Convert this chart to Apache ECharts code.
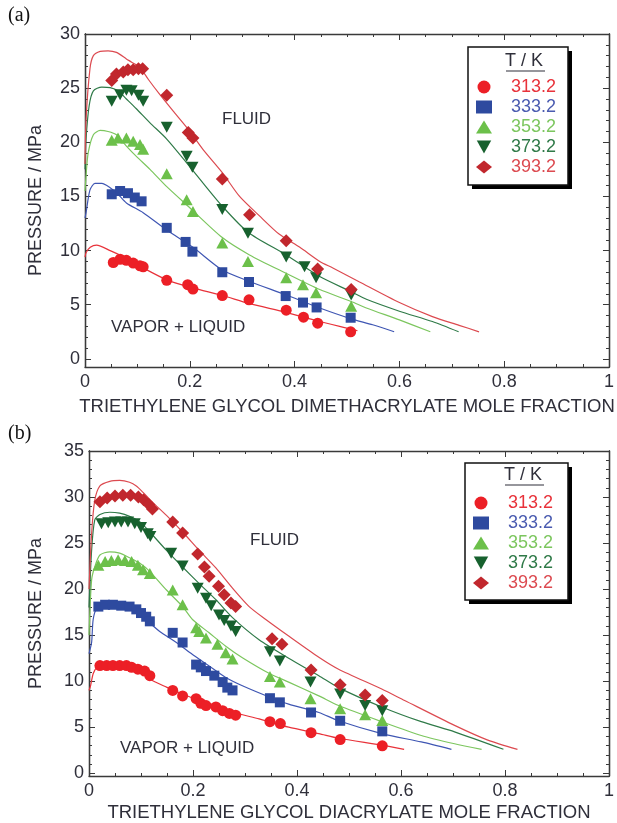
<!DOCTYPE html>
<html>
<head>
<meta charset="utf-8">
<script src="https://cdn.jsdelivr.net/npm/echarts@6/dist/echarts.min.js"></script>
<style>
html,body{margin:0;padding:0;background:#fff;}
#main{width:617px;height:823px;}
</style>
</head>
<body>
<div id="main"></div>
<script>
// temperatures (legend names)
var temps = ['313.2', '333.2', '353.2', '373.2', '393.2'];
var yTicksA = [0, 5, 10, 15, 20, 25, 30];
var yTicksB = [0, 5, 10, 15, 20, 25, 30, 35];

// (a) triethylene glycol dimethacrylate, measured points [x, P/MPa]
var a313 = [[0.054,8.9],[0.067,9.2],[0.079,9.1],[0.092,8.85],[0.105,8.6],[0.111,8.5],[0.156,7.25],[0.196,6.85],[0.206,6.45],[0.262,5.85],[0.313,5.45],[0.384,4.5],[0.417,3.85],[0.444,3.3],[0.507,2.5]];
var a333 = [[0.051,15.2],[0.067,15.5],[0.082,15.3],[0.095,14.9],[0.108,14.55],[0.156,12.1],[0.192,10.8],[0.205,9.9],[0.262,8.0],[0.313,7.1],[0.383,5.8],[0.416,5.2],[0.442,4.75],[0.507,3.8]];
var a353 = [[0.051,20.2],[0.063,20.4],[0.079,20.4],[0.092,20.1],[0.105,19.8],[0.111,19.35],[0.156,17.1],[0.194,14.7],[0.206,13.6],[0.262,10.7],[0.311,9.0],[0.384,7.5],[0.416,6.85],[0.441,6.1],[0.508,4.85]];
var a373 = [[0.051,23.8],[0.067,24.4],[0.079,24.8],[0.089,24.75],[0.102,24.35],[0.111,23.8],[0.156,21.4],[0.194,18.7],[0.205,17.7],[0.262,13.8],[0.311,11.6],[0.384,9.4],[0.419,8.5],[0.441,7.5],[0.508,5.9]];
var a393 = [[0.051,25.7],[0.060,26.3],[0.073,26.5],[0.082,26.7],[0.092,26.7],[0.102,26.8],[0.110,26.8],[0.156,24.35],[0.197,20.9],[0.206,20.4],[0.262,16.6],[0.314,13.3],[0.384,10.9],[0.444,8.3],[0.508,6.4]];

// (a) calculated curves
var ca313 = [[0,9.4],[0.002,9.8],[0.01,10.3],[0.022,10.5],[0.048,10.0],[0.079,9.3],[0.111,8.4],[0.156,7.3],[0.206,6.55],[0.262,5.85],[0.314,5.1],[0.384,4.3],[0.444,3.5],[0.508,2.75],[0.52,2.6]];
var ca333 = [[0,13.0],[0.002,13.5],[0.0095,15.6],[0.019,16.2],[0.032,16.2],[0.048,15.8],[0.063,15.2],[0.079,14.4],[0.111,13.5],[0.156,11.9],[0.206,10.3],[0.262,8.2],[0.314,7.15],[0.384,5.9],[0.448,4.7],[0.508,3.7],[0.549,3.15],[0.59,2.5]];
var ca353 = [[0,15.5],[0.002,16.9],[0.006,19.0],[0.016,20.7],[0.029,21.1],[0.044,21.0],[0.06,20.7],[0.079,19.65],[0.098,18.7],[0.124,17.5],[0.156,15.9],[0.2,13.95],[0.262,11.2],[0.314,9.6],[0.384,7.9],[0.448,6.4],[0.508,5.3],[0.537,4.7],[0.6,3.6],[0.659,2.5]];
var ca373 = [[0,17.5],[0.002,20.3],[0.008,23.4],[0.016,24.75],[0.032,25.1],[0.048,25.05],[0.063,24.75],[0.079,24.0],[0.098,23.1],[0.124,21.8],[0.156,20.3],[0.194,18.1],[0.225,16.25],[0.262,14.1],[0.311,11.7],[0.384,9.6],[0.448,7.6],[0.508,6.2],[0.537,5.5],[0.6,4.4],[0.663,3.45],[0.713,2.5]];
var ca393 = [[0,18],[0.002,22.1],[0.0095,26.8],[0.016,28.0],[0.029,28.4],[0.044,28.45],[0.06,28.3],[0.079,27.7],[0.089,27.4],[0.105,26.9],[0.121,25.8],[0.143,24.4],[0.168,22.9],[0.197,21.2],[0.225,19.35],[0.262,17.2],[0.295,15.0],[0.333,13.2],[0.371,11.5],[0.41,10.3],[0.448,9.0],[0.473,8.4],[0.524,7.1],[0.6,5.2],[0.663,3.9],[0.714,3.1],[0.752,2.5]];

// (b) triethylene glycol diacrylate, measured points
var b313 = [[0.021,11.7],[0.034,11.7],[0.046,11.7],[0.059,11.7],[0.072,11.7],[0.082,11.5],[0.094,11.3],[0.107,11.1],[0.117,10.6],[0.161,9.0],[0.18,8.4],[0.206,8.1],[0.215,7.6],[0.225,7.35],[0.244,7.2],[0.257,6.8],[0.27,6.5],[0.282,6.3],[0.348,5.6],[0.368,5.4],[0.427,4.4],[0.483,3.66],[0.564,2.98]];
var b333 = [[0.018,18.1],[0.031,18.3],[0.046,18.3],[0.062,18.2],[0.078,18.1],[0.091,17.8],[0.1,17.4],[0.11,17.0],[0.117,16.5],[0.161,15.25],[0.18,14.2],[0.206,11.8],[0.215,11.5],[0.225,11.1],[0.241,10.6],[0.257,9.9],[0.266,9.3],[0.276,9.0],[0.348,8.15],[0.367,7.7],[0.427,6.6],[0.483,5.7],[0.564,4.55]];
var b353 = [[0.018,22.6],[0.031,23.0],[0.043,23.1],[0.056,23.2],[0.069,23.1],[0.082,23.0],[0.094,22.6],[0.104,22.1],[0.117,21.7],[0.161,19.9],[0.18,18.3],[0.206,15.8],[0.212,15.4],[0.225,14.7],[0.247,14.0],[0.263,13.1],[0.276,12.4],[0.348,10.5],[0.367,9.9],[0.426,8.1],[0.483,7.0],[0.531,6.35],[0.564,5.74]];
var b373 = [[0.024,27.1],[0.037,27.2],[0.05,27.3],[0.062,27.3],[0.075,27.3],[0.088,27.1],[0.1,26.7],[0.113,26.0],[0.118,25.7],[0.158,23.9],[0.18,22.5],[0.209,20.1],[0.225,19.0],[0.235,18.2],[0.25,17.2],[0.26,16.6],[0.273,16.0],[0.282,15.4],[0.348,13.2],[0.367,12.2],[0.426,9.9],[0.483,8.6],[0.531,7.35],[0.564,6.8]];
var b393 = [[0.021,29.5],[0.035,29.9],[0.05,30.1],[0.065,30.2],[0.08,30.2],[0.095,30.0],[0.105,29.7],[0.115,29.2],[0.122,28.7],[0.161,27.3],[0.18,26.1],[0.209,23.8],[0.222,22.4],[0.231,21.4],[0.249,20.3],[0.26,19.4],[0.273,18.5],[0.282,18.1],[0.352,14.6],[0.371,14.0],[0.427,11.2],[0.483,9.6],[0.531,8.5],[0.564,7.9]];

// (b) calculated curves
var cb313 = [[0,9],[0.003,9.5],[0.008,10.8],[0.015,11.5],[0.027,11.85],[0.053,11.85],[0.078,11.65],[0.098,11.1],[0.117,10.2],[0.149,9.35],[0.18,8.6],[0.212,7.9],[0.244,7.35],[0.276,6.65],[0.327,5.9],[0.384,5.0],[0.442,4.3],[0.48,3.8],[0.563,3.05],[0.606,2.6]];
var cb333 = [[0,13],[0.005,14.2],[0.008,16.7],[0.015,17.95],[0.027,18.4],[0.046,18.5],[0.072,18.3],[0.091,17.8],[0.11,16.7],[0.136,15.4],[0.168,14.2],[0.199,12.9],[0.231,11.65],[0.263,10.4],[0.295,9.5],[0.348,8.25],[0.384,7.5],[0.442,6.6],[0.48,5.7],[0.563,4.3],[0.639,3.4],[0.697,2.6]];
var cb353 = [[0,15],[0.005,21.0],[0.011,22.4],[0.021,23.7],[0.04,24.05],[0.059,23.9],[0.078,23.4],[0.098,22.8],[0.117,21.9],[0.149,19.9],[0.18,18.1],[0.199,16.7],[0.231,15.25],[0.263,13.8],[0.295,12.55],[0.348,10.8],[0.384,9.9],[0.442,8.4],[0.48,7.35],[0.563,5.6],[0.639,4.1],[0.703,3.2],[0.755,2.6]];
var cb373 = [[0,18],[0.005,24.2],[0.011,27.5],[0.021,28.1],[0.04,28.35],[0.059,28.25],[0.078,27.9],[0.098,27.3],[0.117,26.2],[0.149,24.2],[0.18,22.4],[0.212,20.6],[0.244,18.85],[0.276,16.9],[0.327,14.5],[0.384,12.5],[0.442,10.6],[0.48,9.3],[0.563,7.2],[0.639,5.6],[0.703,4.5],[0.797,2.6]];
var cb393 = [[0,20],[0.005,26.0],[0.011,29.6],[0.021,31.2],[0.04,31.7],[0.059,31.8],[0.078,31.6],[0.091,31.2],[0.104,30.5],[0.123,29.4],[0.149,28.0],[0.18,26.2],[0.212,24.2],[0.244,22.3],[0.276,20.1],[0.308,18.1],[0.34,16.7],[0.384,14.9],[0.442,12.6],[0.48,11.3],[0.563,9.15],[0.607,7.9],[0.703,5.2],[0.767,3.6],[0.824,2.6]];

var ptColors = ['#ec1f26', '#2e4a9f', '#6cc04a', '#17612e', '#c1272d'];
var lnColors = ['#e8323a', '#3f56b3', '#7cc65e', '#2f7a48', '#dc4a50'];
var lgColors = ['#e8323a', '#4a5bb0', '#7cc65e', '#2f7a48', '#dc4a50'];
var symbols = ['circle', 'rect', 'triangle', 'path://M0,0L10,0L5,9Z', 'diamond'];
var symSizes = [11, 10, [12, 11], [12, 11], 13];
var txt = '#2f2f3a';
var axColor = '#3a3a3a';

window.onload = function () {
    var chart = echarts.init(document.getElementById('main'), null, {renderer: 'canvas'});

    function xAx(grid, pos, name, gap) {
        return {
            type: 'value', gridIndex: grid, position: pos, min: 0, max: 1, interval: 0.2,
            name: name, nameLocation: 'middle', nameGap: gap,
            nameTextStyle: {fontSize: 18.5, color: txt, fontFamily: 'Liberation Sans'},
            axisLine: {show: true, onZero: false, lineStyle: {color: axColor, width: 1.3}},
            axisTick: {show: true, inside: true, length: 6, lineStyle: {color: axColor}},
            minorTick: {show: true, splitNumber: 4, length: 3, lineStyle: {color: axColor}},
            axisLabel: {show: pos === 'bottom', fontSize: 18, color: txt, margin: 6, fontFamily: 'Liberation Sans'},
            splitLine: {show: false}
        };
    }
    function yAx(grid, pos, lo, hi, ticks, minor, name, gap) {
        var vals = [];
        if (minor) { for (var v = 0; v <= hi; v++) vals.push(v); } else vals = ticks;
        return {
            type: 'value', gridIndex: grid, position: pos, min: lo, max: hi,
            name: name || '', nameLocation: 'middle', nameGap: gap,
            nameTextStyle: {fontSize: 18, color: txt, fontFamily: 'Liberation Sans'},
            axisLine: {show: true, onZero: false, lineStyle: {color: axColor, width: 1.3}},
            axisTick: {show: true, inside: true, length: minor ? 3 : 6, customValues: vals, lineStyle: {color: axColor}},
            axisLabel: {show: !minor && pos === 'left', customValues: ticks, fontSize: 18, color: txt, margin: 5, fontFamily: 'Liberation Sans'},
            splitLine: {show: false}
        };
    }

    var series = [];
    var ptsA = [a313, a333, a353, a373, a393], crvA = [ca313, ca333, ca353, ca373, ca393];
    var ptsB = [b313, b333, b353, b373, b393], crvB = [cb313, cb333, cb353, cb373, cb393];
    function addPanel(pts, crv, xi, yi) {
        for (var i = 0; i < 5; i++) {
            series.push({
                type: 'line', name: 'calc ' + temps[i], xAxisIndex: xi, yAxisIndex: yi,
                data: crv[i], showSymbol: false, smooth: 0.25, z: 2, silent: true,
                lineStyle: {color: lnColors[i], width: 1.2}
            });
        }
        for (var j = 0; j < 5; j++) {
            series.push({
                type: 'scatter', name: temps[j], xAxisIndex: xi, yAxisIndex: yi,
                data: pts[j], symbol: symbols[j], symbolSize: symSizes[j], z: 3,
                itemStyle: {color: ptColors[j], opacity: 1}
            });
        }
    }
    addPanel(ptsA, crvA, 0, 0);
    addPanel(ptsB, crvB, 2, 4);

    // legend items only, the framed box is drawn below as graphic
    function legend(left, top) {
        return {
            left: left, top: top, orient: 'vertical', selectedMode: false,
            padding: [31, 12, 9, 8], itemGap: 2, itemWidth: 16, itemHeight: 13,
            textStyle: {fontSize: 18, lineHeight: 18, padding: [0, 0, 0, 14], fontFamily: 'Liberation Sans'},
            data: temps.map(function (t, k) { return {name: t, textStyle: {color: lgColors[k]}}; })
        };
    }
    function box(x, y, w, h) {
        return [
            {type: 'rect', z: 0, shape: {x: x + 4, y: y + 4, width: w, height: h}, style: {fill: '#000'}},
            {type: 'rect', z: 1, shape: {x: x, y: y, width: w, height: h}, style: {fill: '#fff', stroke: '#111', lineWidth: 1.5}}
        ];
    }

    function label(x, y, s, size, font) {
        return {type: 'text', left: x, top: y, style: {text: s, fontSize: size || 17, fill: font ? '#111' : txt, fontFamily: font || 'Liberation Sans'}};
    }

    chart.setOption({
        backgroundColor: '#fff',
        animation: false,
        grid: [
            {left: 85, right: 7, top: 34, height: 333},
            {left: 89, right: 6, top: 451, height: 327}
        ],
        xAxis: [
            xAx(0, 'bottom', 'TRIETHYLENE GLYCOL DIMETHACRYLATE MOLE FRACTION', 30),
            xAx(0, 'top', '', 0),
            xAx(1, 'bottom', 'TRIETHYLENE GLYCOL DIACRYLATE MOLE FRACTION', 27),
            xAx(1, 'top', '', 0)
        ],
        yAxis: [
            yAx(0, 'left', -0.75, 30, yTicksA, false, 'PRESSURE / MPa', 40),
            yAx(0, 'left', -0.75, 30, yTicksA, true),
            yAx(0, 'right', -0.75, 30, yTicksA, false),
            yAx(0, 'right', -0.75, 30, yTicksA, true),
            yAx(1, 'left', -0.3, 35, yTicksB, false, 'PRESSURE / MPa', 44),
            yAx(1, 'left', -0.3, 35, yTicksB, true),
            yAx(1, 'right', -0.3, 35, yTicksB, false),
            yAx(1, 'right', -0.3, 35, yTicksB, true)
        ],
        legend: [legend(468, 47), legend(465, 463)],
        graphic: box(468, 47, 100, 138).concat(box(465, 463, 103, 137)).concat([
            label(8, 6, '(a)', 20, 'Liberation Serif'),
            label(8, 424, '(b)', 20, 'Liberation Serif'),
            label(222, 111, 'FLUID'),
            label(111, 319, 'VAPOR + LIQUID'),
            label(250, 532, 'FLUID'),
            label(120, 740, 'VAPOR + LIQUID'),
            {type: 'text', z: 2, left: 505, top: 52, style: {text: 'T / K', fontSize: 18, fill: txt, fontFamily: 'Liberation Sans'}},
            {type: 'line', z: 2, shape: {x1: 506, y1: 71, x2: 545, y2: 71}, style: {stroke: txt, lineWidth: 1.2}},
            {type: 'text', z: 2, left: 504, top: 466, style: {text: 'T / K', fontSize: 18, fill: txt, fontFamily: 'Liberation Sans'}},
            {type: 'line', z: 2, shape: {x1: 505, y1: 485, x2: 544, y2: 485}, style: {stroke: txt, lineWidth: 1.2}}
        ]),
        series: series
    });
};
</script>
</body>
</html>
